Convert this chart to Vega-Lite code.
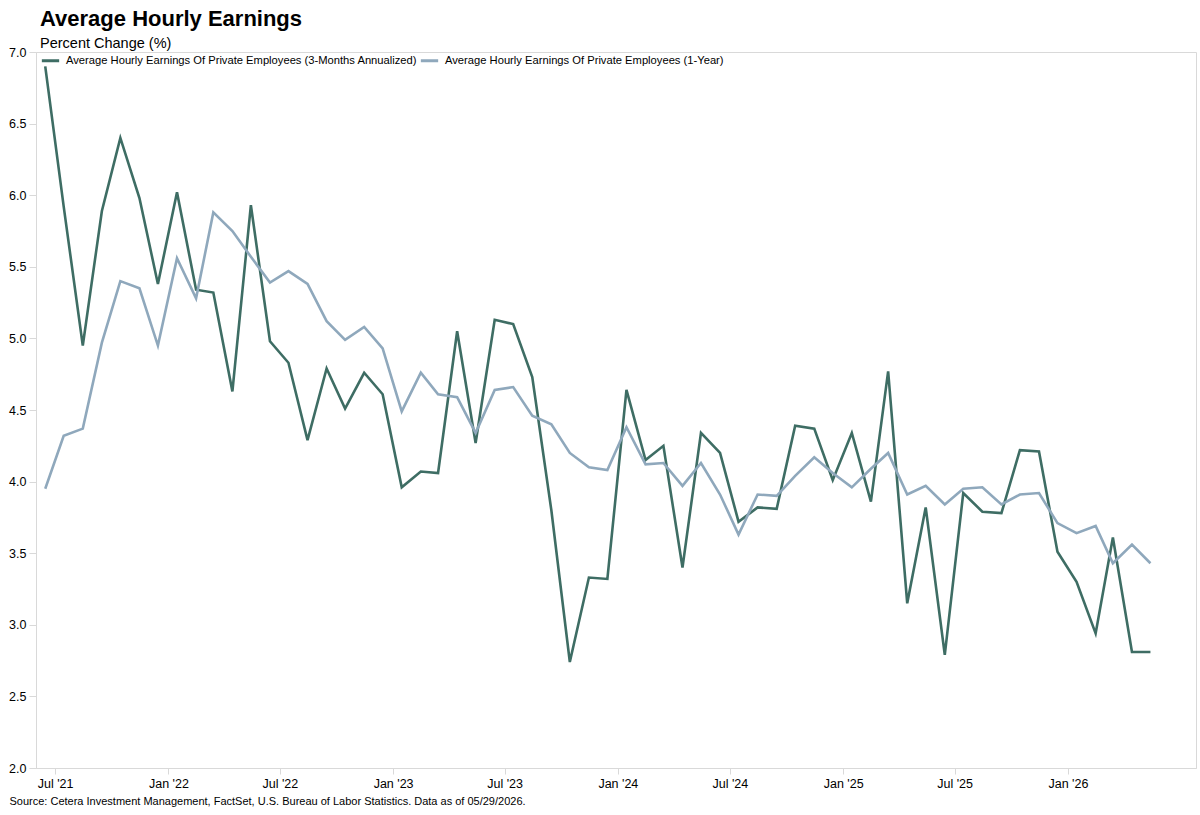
{
  "$schema": "https://vega.github.io/schema/vega-lite/v6.json",
  "autosize": {"type": "none"},
  "padding": {"left": 36, "top": 52, "right": 4, "bottom": 47},
  "width": 1160,
  "height": 716,
  "background": "#ffffff",
  "title": {
    "text": "Average Hourly Earnings",
    "subtitle": "Percent Change (%)",
    "anchor": "start",
    "frame": "group",
    "font": "Liberation Sans",
    "fontSize": 22,
    "fontWeight": "bold",
    "color": "#000000",
    "subtitleFont": "Liberation Sans",
    "subtitleFontSize": 14.5,
    "subtitleColor": "#000000",
    "subtitlePadding": 6,
    "offset": -5,
    "dx": 4
  },
  "data": {
    "values": [
      {"date": "2021-06-15", "m3": 6.90, "y1": 3.95},
      {"date": "2021-07-15", "m3": 5.92, "y1": 4.32},
      {"date": "2021-08-15", "m3": 4.95, "y1": 4.37},
      {"date": "2021-09-15", "m3": 5.89, "y1": 4.97},
      {"date": "2021-10-15", "m3": 6.40, "y1": 5.40},
      {"date": "2021-11-15", "m3": 5.98, "y1": 5.35},
      {"date": "2021-12-15", "m3": 5.38, "y1": 4.95},
      {"date": "2022-01-15", "m3": 6.02, "y1": 5.56},
      {"date": "2022-02-15", "m3": 5.34, "y1": 5.28},
      {"date": "2022-03-15", "m3": 5.32, "y1": 5.88},
      {"date": "2022-04-15", "m3": 4.63, "y1": 5.75},
      {"date": "2022-05-15", "m3": 5.93, "y1": 5.57},
      {"date": "2022-06-15", "m3": 4.98, "y1": 5.39},
      {"date": "2022-07-15", "m3": 4.83, "y1": 5.47},
      {"date": "2022-08-15", "m3": 4.29, "y1": 5.38},
      {"date": "2022-09-15", "m3": 4.79, "y1": 5.12},
      {"date": "2022-10-15", "m3": 4.51, "y1": 4.99},
      {"date": "2022-11-15", "m3": 4.76, "y1": 5.08},
      {"date": "2022-12-15", "m3": 4.61, "y1": 4.93},
      {"date": "2023-01-15", "m3": 3.96, "y1": 4.49},
      {"date": "2023-02-15", "m3": 4.07, "y1": 4.76},
      {"date": "2023-03-15", "m3": 4.06, "y1": 4.61},
      {"date": "2023-04-15", "m3": 5.05, "y1": 4.59},
      {"date": "2023-05-15", "m3": 4.27, "y1": 4.34},
      {"date": "2023-06-15", "m3": 5.13, "y1": 4.64},
      {"date": "2023-07-15", "m3": 5.10, "y1": 4.66},
      {"date": "2023-08-15", "m3": 4.73, "y1": 4.46},
      {"date": "2023-09-15", "m3": 3.80, "y1": 4.40},
      {"date": "2023-10-15", "m3": 2.74, "y1": 4.20},
      {"date": "2023-11-15", "m3": 3.33, "y1": 4.10},
      {"date": "2023-12-15", "m3": 3.32, "y1": 4.08},
      {"date": "2024-01-15", "m3": 4.64, "y1": 4.38},
      {"date": "2024-02-15", "m3": 4.15, "y1": 4.12},
      {"date": "2024-03-15", "m3": 4.25, "y1": 4.13},
      {"date": "2024-04-15", "m3": 3.40, "y1": 3.97},
      {"date": "2024-05-15", "m3": 4.34, "y1": 4.13},
      {"date": "2024-06-15", "m3": 4.20, "y1": 3.91},
      {"date": "2024-07-15", "m3": 3.72, "y1": 3.63},
      {"date": "2024-08-15", "m3": 3.82, "y1": 3.91},
      {"date": "2024-09-15", "m3": 3.81, "y1": 3.90},
      {"date": "2024-10-15", "m3": 4.39, "y1": 4.04},
      {"date": "2024-11-15", "m3": 4.37, "y1": 4.17},
      {"date": "2024-12-15", "m3": 4.01, "y1": 4.06},
      {"date": "2025-01-15", "m3": 4.34, "y1": 3.96},
      {"date": "2025-02-15", "m3": 3.86, "y1": 4.09},
      {"date": "2025-03-15", "m3": 4.77, "y1": 4.20},
      {"date": "2025-04-15", "m3": 3.15, "y1": 3.91},
      {"date": "2025-05-15", "m3": 3.82, "y1": 3.97},
      {"date": "2025-06-15", "m3": 2.79, "y1": 3.84},
      {"date": "2025-07-15", "m3": 3.92, "y1": 3.95},
      {"date": "2025-08-15", "m3": 3.79, "y1": 3.96},
      {"date": "2025-09-15", "m3": 3.78, "y1": 3.84},
      {"date": "2025-10-15", "m3": 4.22, "y1": 3.91},
      {"date": "2025-11-15", "m3": 4.21, "y1": 3.92},
      {"date": "2025-12-15", "m3": 3.51, "y1": 3.71},
      {"date": "2026-01-15", "m3": 3.30, "y1": 3.64},
      {"date": "2026-02-15", "m3": 2.94, "y1": 3.69},
      {"date": "2026-03-15", "m3": 3.61, "y1": 3.43},
      {"date": "2026-04-15", "m3": 2.81, "y1": 3.56},
      {"date": "2026-05-15", "m3": 2.81, "y1": 3.43}
    ]
  },
  "transform": [
    {"fold": ["m3", "y1"], "as": ["series", "value"]}
  ],
  "mark": {"type": "line", "strokeWidth": 2.6, "interpolate": "linear"},
  "encoding": {
    "x": {
      "field": "date",
      "type": "temporal",
      "scale": {
        "type": "utc",
        "domain": [
          {"year": 2021, "month": 5, "date": 31, "utc": true},
          {"year": 2026, "month": 7, "date": 28, "utc": true}
        ]
      },
      "axis": {
        "values": [
          {"year": 2021, "month": 7, "date": 1, "utc": true},
          {"year": 2022, "month": 1, "date": 1, "utc": true},
          {"year": 2022, "month": 7, "date": 1, "utc": true},
          {"year": 2023, "month": 1, "date": 1, "utc": true},
          {"year": 2023, "month": 7, "date": 1, "utc": true},
          {"year": 2024, "month": 1, "date": 1, "utc": true},
          {"year": 2024, "month": 7, "date": 1, "utc": true},
          {"year": 2025, "month": 1, "date": 1, "utc": true},
          {"year": 2025, "month": 7, "date": 1, "utc": true},
          {"year": 2026, "month": 1, "date": 1, "utc": true}
        ],
        "format": "%b '%y",
        "grid": false,
        "labelPadding": 3,
        "title": "Source: Cetera Investment Management, FactSet, U.S. Bureau of Labor Statistics. Data as of 05/29/2026.",
        "titleX": -27,
        "titleY": 33.5,
        "titleAlign": "left",
        "titleAnchor": "start",
        "titleBaseline": "middle",
        "titleFont": "Liberation Sans",
        "titleFontSize": 11,
        "titleFontWeight": "normal",
        "titleColor": "#000000"
      }
    },
    "y": {
      "field": "value",
      "type": "quantitative",
      "scale": {"domain": [2, 7], "nice": false, "zero": false},
      "axis": {
        "values": [2, 2.5, 3, 3.5, 4, 4.5, 5, 5.5, 6, 6.5, 7],
        "format": ".1f",
        "grid": false,
        "title": null,
        "tickSize": 7,
        "labelPadding": 3
      }
    },
    "color": {
      "field": "series",
      "type": "nominal",
      "scale": {"domain": ["m3", "y1"], "range": ["#3e6d64", "#8fa8bc"]},
      "legend": {
        "title": null,
        "orient": "none",
        "direction": "horizontal",
        "columns": 2,
        "legendX": 4,
        "legendY": -2,
        "symbolType": "stroke",
        "symbolSize": 300,
        "symbolStrokeWidth": 3,
        "labelOffset": 5,
        "columnPadding": -4,
        "labelFont": "Liberation Sans",
        "labelFontSize": 11.2,
        "labelColor": "#000000",
        "labelLimit": 600,
        "labelExpr": "datum.label == 'm3' ? 'Average Hourly Earnings Of Private Employees (3-Months Annualized)' : 'Average Hourly Earnings Of Private Employees (1-Year)'"
      }
    }
  },
  "config": {
    "view": {"stroke": "#d9d9d9", "strokeWidth": 1},
    "axis": {
      "domainColor": "#d9d9d9",
      "tickColor": "#d9d9d9",
      "labelFont": "Liberation Sans",
      "labelFontSize": 12.5,
      "labelColor": "#000000",
      "tickSize": 6,
      "labelPadding": 4
    }
  }
}
